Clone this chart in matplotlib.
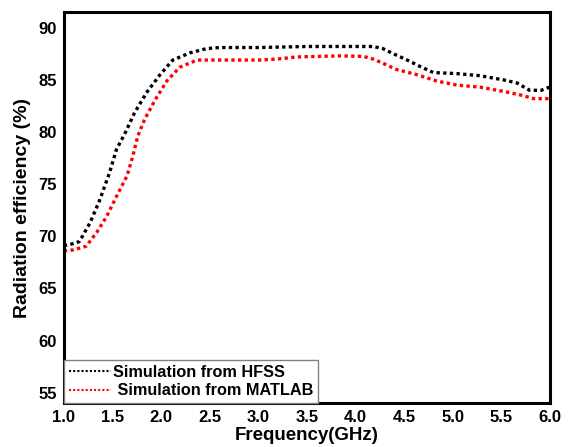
import numpy as np
import matplotlib.pyplot as plt

# Frequency (GHz) and radiation efficiency (%)
freq_hfss = [1.0, 1.06, 1.16, 1.27, 1.37, 1.47, 1.54, 1.63, 1.73, 1.86, 1.99, 2.12,
             2.30, 2.47, 2.6, 3.0, 3.5, 3.84, 4.18, 4.28, 4.39, 4.53, 4.66, 4.80,
             5.04, 5.28, 5.52, 5.66, 5.79, 5.91, 5.96, 6.0]
eff_hfss = [69.1, 69.2, 69.5, 71.3, 73.5, 76.1, 78.3, 79.9, 81.9, 83.9, 85.5, 86.9,
            87.6, 88.0, 88.1, 88.1, 88.2, 88.2, 88.2, 88.0, 87.5, 86.9, 86.3, 85.7,
            85.6, 85.4, 85.0, 84.7, 84.0, 84.0, 84.2, 84.3]

freq_matlab = [1.0, 1.1, 1.23, 1.34, 1.44, 1.54, 1.65, 1.71, 1.76, 1.83, 1.94, 2.06,
               2.19, 2.37, 2.57, 3.0, 3.2, 3.4, 3.84, 4.08, 4.18, 4.28, 4.42, 4.63,
               4.83, 5.04, 5.28, 5.52, 5.72, 5.83, 5.97, 6.0]
eff_matlab = [68.6, 68.7, 69.05, 70.4, 71.9, 73.8, 75.8, 77.7, 79.6, 81.2, 83.1, 84.9,
              86.2, 86.9, 86.9, 86.9, 87.0, 87.2, 87.3, 87.25, 87.0, 86.6, 86.0, 85.5,
              84.9, 84.5, 84.3, 83.9, 83.5, 83.2, 83.2, 83.2]

xticks = np.arange(1.0, 6.01, 0.5)
yticks = [55, 60, 65, 70, 75, 80, 85, 90]

plt.rcParams['font.family'] = ['Liberation Sans', 'DejaVu Sans']
plt.rcParams['font.weight'] = 'bold'

fig = plt.figure(figsize=(5.7, 4.47), dpi=100)
ax = fig.add_axes([0.112, 0.098, 0.853, 0.875])

ax.plot(freq_hfss, eff_hfss, color='black', lw=2.4, dashes=(1, 1),
        label='Simulation from HFSS')
ax.plot(freq_matlab, eff_matlab, color='red', lw=2.4, dashes=(1, 1),
        label=' Simulation from MATLAB')

ax.set_xlim(1.0, 6.0)
ax.set_ylim(54.0, 91.5)
ax.set_xticks(xticks)
ax.set_xticklabels(['%.1f' % t for t in xticks])
ax.set_yticks(yticks)
ax.tick_params(length=0, labelsize=12, pad=5)
for lab in ax.get_xticklabels() + ax.get_yticklabels():
    lab.set_fontweight('bold')

ax.set_xlabel('Frequency(GHz)', fontsize=13.5, fontweight='bold', labelpad=1)
ax.set_ylabel('Radiation efficiency (%)', fontsize=14, fontweight='bold', labelpad=5)

for s in ax.spines.values():
    s.set_linewidth(2.2)

leg = ax.legend(loc='lower left', borderaxespad=0, fancybox=False,
                edgecolor='gray', framealpha=1, fontsize=11.7,
                handlelength=2.6, handletextpad=0.1, borderpad=0.3,
                labelspacing=0.2)
for h in leg.get_lines():
    h.set_linewidth(1.5)
    h.set_dashes((1, 1))
leg.get_frame().set_linewidth(1.0)

plt.savefig('out.png', dpi=100)
